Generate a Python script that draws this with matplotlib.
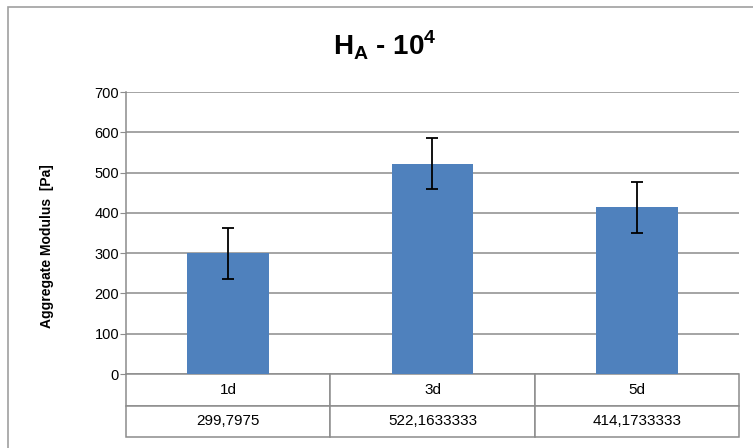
import matplotlib
matplotlib.use("Agg")
import matplotlib.pyplot as plt
import numpy as np
from matplotlib.patches import Rectangle

TITLE = r"H$_\mathrm{A}$ - 10$^\mathrm{4}$"
YLABEL = "Aggregate Modulus  [Pa]"
categories = ["1d", "3d", "5d"]
values = [299.7975, 522.1633333, 414.1733333]
errors = [63, 64, 63]
value_labels = ["299,7975", "522,1633333", "414,1733333"]
yticks = [0, 100, 200, 300, 400, 500, 600, 700]

BAR_COLOR = "#4F81BD"
GRID_COLOR = "#8C8C8C"
FONT = ["Liberation Sans Narrow", "Liberation Sans", "DejaVu Sans"]

plt.rcParams["font.family"] = FONT
plt.rcParams["mathtext.fontset"] = "custom"
plt.rcParams["mathtext.rm"] = "Liberation Sans:bold"

fig = plt.figure(figsize=(7.53, 4.48), dpi=100)
ax = fig.add_axes([126 / 753, 1 - 374 / 448, (739 - 126) / 753, (374 - 92) / 448])

# outer chart border (cut off at right/bottom like the screenshot)
fig.patches.append(Rectangle((8 / 753, -0.1), 1.2, 1 - 7 / 448 + 0.1,
                             transform=fig.transFigure, fill=False,
                             edgecolor="#A0A0A0", linewidth=1.2))

x = np.arange(len(categories))
ax.bar(x, values, width=0.4, color=BAR_COLOR, zorder=3)
ax.errorbar(x, values, yerr=errors, fmt="none", ecolor="black",
            elinewidth=1.3, capsize=4, capthick=1.3, zorder=4)

ax.set_xlim(-0.5, len(categories) - 0.5)
ax.set_ylim(0, 700)
ax.set_yticks(yticks)
ax.set_xticks([])
ax.yaxis.grid(True, color=GRID_COLOR, linewidth=1.1, zorder=0)
ax.tick_params(axis="y", length=4, color=GRID_COLOR, labelsize=10.5, pad=1)
for side in ["top", "right", "bottom"]:
    ax.spines[side].set_visible(False)
ax.spines["left"].set_color(GRID_COLOR)
ax.spines["left"].set_linewidth(1.1)

ylab = ax.set_ylabel(YLABEL, fontsize=10, fontweight="bold")
ax.yaxis.set_label_coords(-0.129, 0.454)
ylab.set_va("center")

# data table under the plot
h = (437 - 374) / (374 - 92)
tbl = ax.table(cellText=[categories, value_labels], cellLoc="center",
               bbox=[0, -h, 1, h])
tbl.auto_set_font_size(False)
for cell in tbl.get_celld().values():
    cell.set_edgecolor(GRID_COLOR)
    cell.set_linewidth(1.1)
    cell.get_text().set_fontsize(11)

fig.text(385 / 753, 1 - 45 / 448, TITLE, ha="center", va="center",
         fontsize=20, fontweight="bold")

fig.savefig("out.png", dpi=100)
